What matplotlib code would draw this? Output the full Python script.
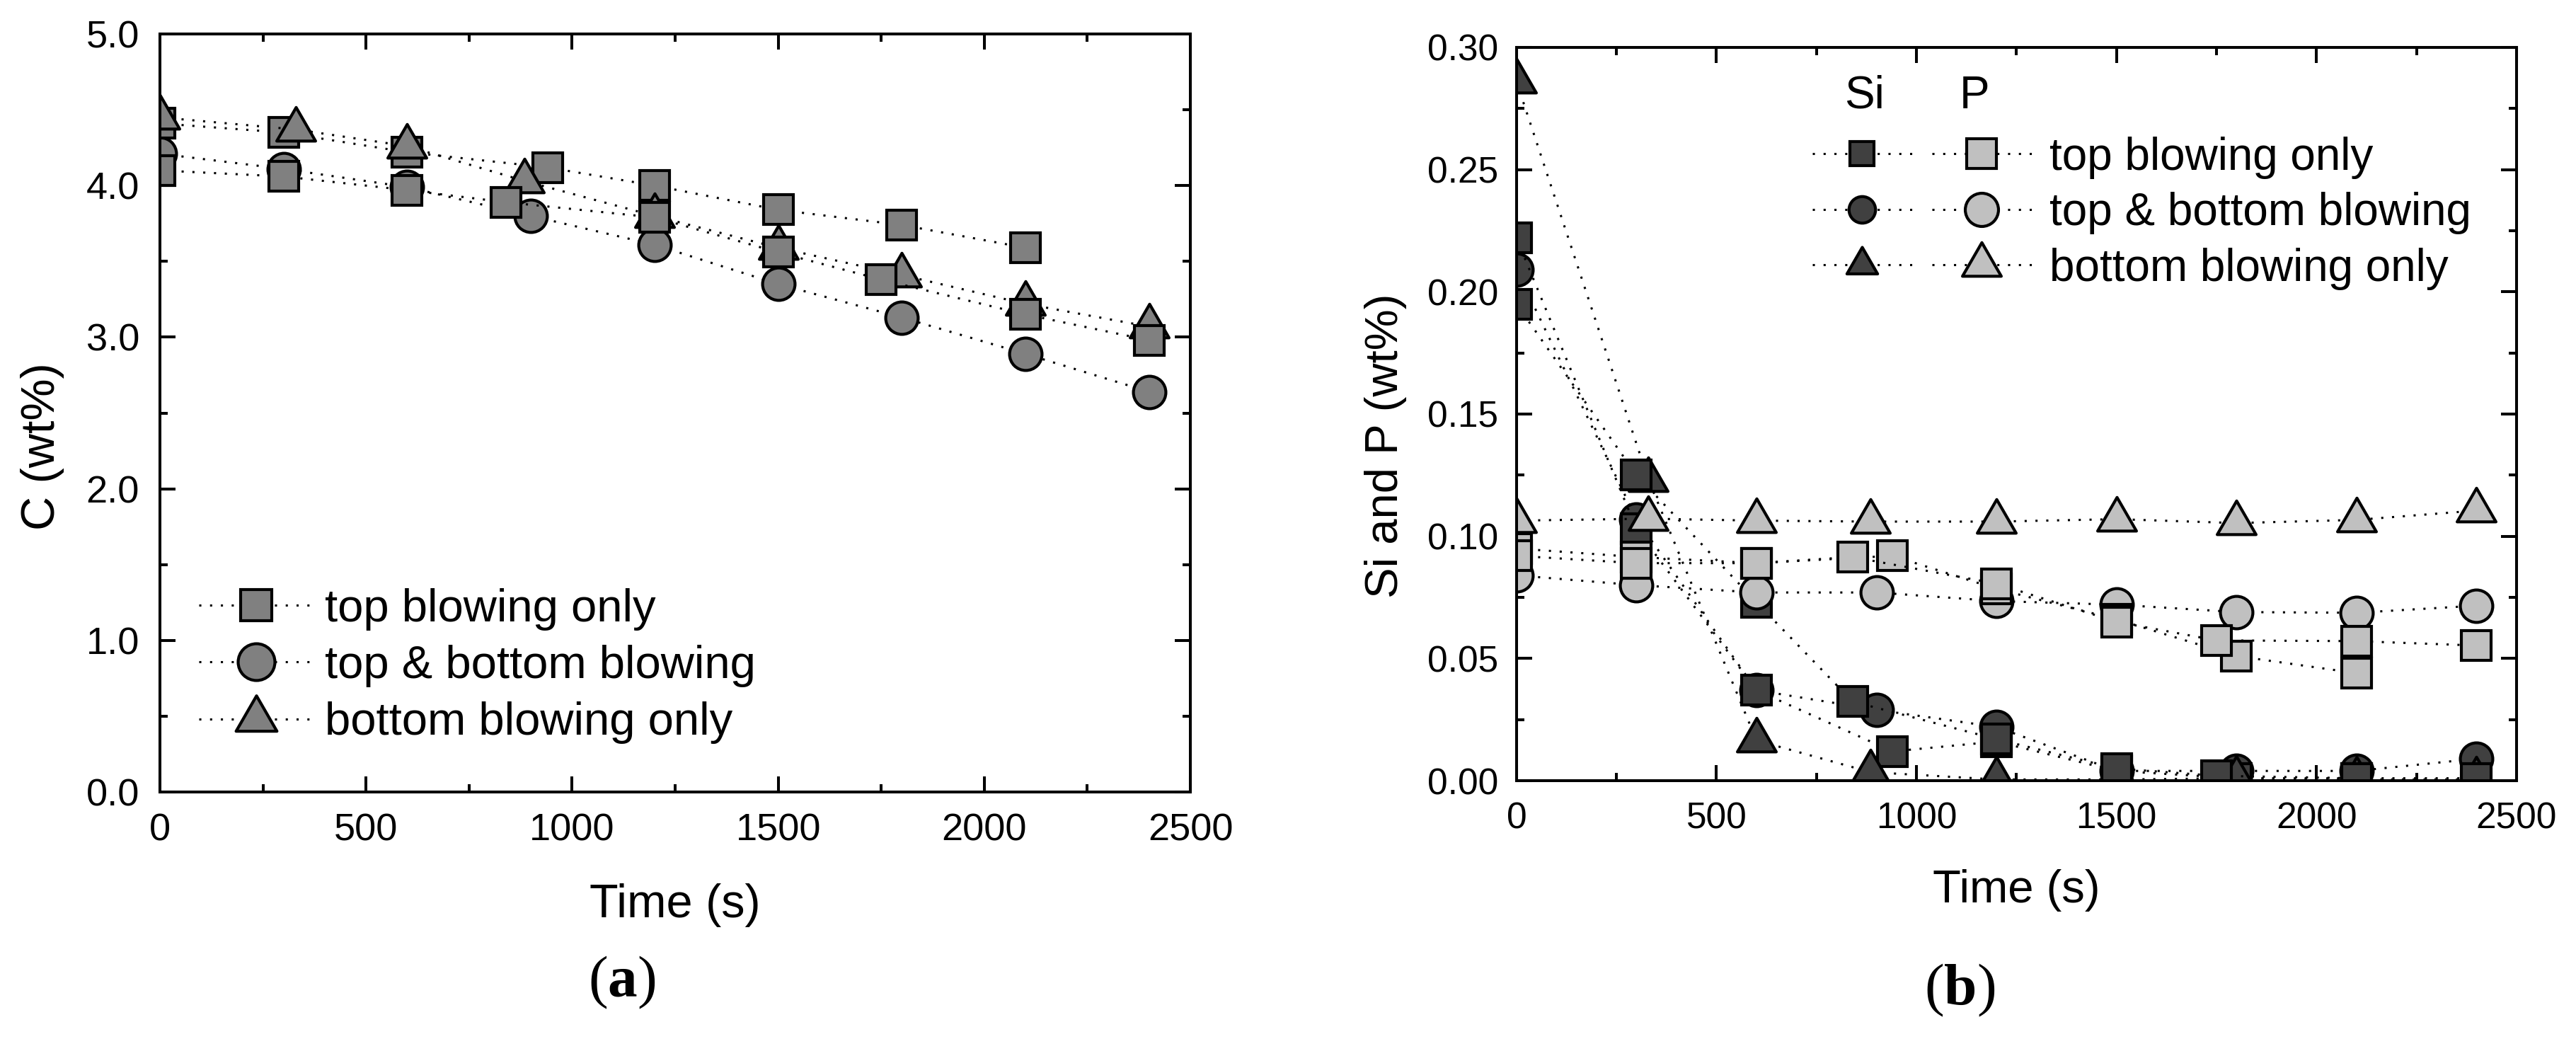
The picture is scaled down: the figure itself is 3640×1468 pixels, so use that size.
import matplotlib
matplotlib.use('Agg')
import matplotlib.pyplot as plt
from matplotlib.lines import Line2D
from matplotlib.markers import MarkerStyle
from matplotlib.path import Path
from matplotlib.legend_handler import HandlerTuple
from matplotlib.ticker import MultipleLocator, FormatStrFormatter

plt.rcParams['font.family'] = 'Liberation Sans'
plt.rcParams['mathtext.fontset'] = 'custom'
plt.rcParams['mathtext.rm'] = 'Liberation Serif'
plt.rcParams['mathtext.bf'] = 'Liberation Serif:bold'

# ---- (a) carbon content, wt% ----
t_top1 = [0, 300, 600, 940, 1200, 1500, 1800, 2100]
c_top1 = [4.41, 4.35, 4.22, 4.12, 4.00, 3.84, 3.74, 3.59]
t_top2 = [0, 300, 600, 840, 1200, 1500, 1750, 2100, 2400]
c_top2 = [4.10, 4.06, 3.97, 3.89, 3.79, 3.56, 3.38, 3.15, 2.98]
t_mix = [0, 300, 600, 900, 1200, 1500, 1800, 2100, 2400]
c_mix = [4.21, 4.11, 3.99, 3.80, 3.61, 3.35, 3.13, 2.89, 2.64]
t_bot = [0, 330, 600, 885, 1200, 1500, 1800, 2100, 2400]
c_bot = [4.45, 4.37, 4.26, 4.03, 3.80, 3.59, 3.41, 3.22, 3.07]

# ---- (b) Si and P content, wt% ----
si_top1 = [0.222, 0.103, 0.037, 0.012, 0.016, 0.004, 0.001, 0.001]
si_top2 = [0.195, 0.125, 0.073, 0.0324, 0.017, 0.005, 0.002, 0.001, 0.001]
si_mix = [0.209, 0.107, 0.037, 0.029, 0.022, 0.004, 0.004, 0.004, 0.009]
si_bot = [0.286, 0.123, 0.0165, 0.0035, 0.0005, 0.0005, 0.001, 0.0005, 0.0005]
p_top1 = [0.095, 0.0915, 0.089, 0.092, 0.0785, 0.066, 0.051, 0.044]
p_top2 = [0.092, 0.089, 0.089, 0.0915, 0.0806, 0.065, 0.0574, 0.0571, 0.0553]
p_mix = [0.084, 0.080, 0.077, 0.077, 0.0735, 0.072, 0.069, 0.0687, 0.0716]
p_bot = [0.1064, 0.1072, 0.1064, 0.106, 0.106, 0.107, 0.1054, 0.1067, 0.1105]

labels = ['top blowing only', 'top & bottom blowing', 'bottom blowing only']

gray = '#808080'
dark = '#404040'
light = '#c0c0c0'
dots = (0, (1, 4))

# triangle with its centroid on the data point
tri = MarkerStyle(Path([(0, 1), (-0.866, -0.5), (0.866, -0.5), (0, 1)], closed=True),
                  joinstyle='miter')


def series(ax, t, y, mk, ms, fc):
    ax.plot(t, y, ls=dots, color='k', lw=1.1, marker=mk, ms=ms,
            mfc=fc, mec='k', mew=1.5)


def handle(mk, ms, fc):
    return Line2D([], [], ls=dots, color='k', lw=1.1, marker=mk, ms=ms,
                  mfc=fc, mec='k', mew=1.5)


def style_axes(ax, ymajor, yminor, fmt, tick_size):
    ax.set_xlim(0, 2500)
    ax.xaxis.set_major_locator(MultipleLocator(500))
    ax.xaxis.set_minor_locator(MultipleLocator(250))
    ax.yaxis.set_major_locator(MultipleLocator(ymajor))
    ax.yaxis.set_minor_locator(MultipleLocator(yminor))
    ax.yaxis.set_major_formatter(FormatStrFormatter(fmt))
    ax.tick_params(which='both', direction='in', top=True, right=True, width=1.45)
    ax.tick_params(which='major', length=7.9, pad=10.5, labelsize=tick_size)
    ax.tick_params(which='minor', length=4)
    for s in ax.spines.values():
        s.set_linewidth(1.45)


fig = plt.figure(figsize=(18.2, 7.34), dpi=200)

# ---------------- (a) ----------------
ax1 = fig.add_axes([0.0621, 0.2377, 0.4, 0.7296])
series(ax1, t_mix, c_mix, 'o', 16.5, gray)
series(ax1, t_top1, c_top1, 's', 15, gray)
series(ax1, t_bot, c_bot, tri, 22.8, gray)
series(ax1, t_top2, c_top2, 's', 15, gray)
ax1.set_ylim(0, 5)
style_axes(ax1, 1.0, 0.5, '%.1f', 19.5)
ax1.set_xlabel('Time (s)', fontsize=24, va='center')
ax1.xaxis.set_label_coords(0.5, -0.149)
ax1.set_ylabel('C (wt%)', fontsize=24, va='center')
ax1.yaxis.set_label_coords(-0.114, 0.456)

h1 = [handle('s', 15.8, gray), handle('o', 18.7, gray), handle(tri, 24, gray)]
ax1.legend(h1, labels, loc='center left', bbox_to_anchor=(0.0378, 0.166),
           frameon=False, borderpad=0, borderaxespad=0, fontsize=23.5,
           handlelength=2.47, handletextpad=0.26, labelspacing=0.31)

# ---------------- (b) ----------------
ax2 = fig.add_axes([0.5887, 0.2486, 0.3882, 0.7058])
series(ax2, t_mix, si_mix, 'o', 16.5, dark)
series(ax2, t_top1, si_top1, 's', 15, dark)
series(ax2, t_bot, si_bot, tri, 22.8, dark)
series(ax2, t_top2, si_top2, 's', 15, dark)
series(ax2, t_mix, p_mix, 'o', 16.5, light)
series(ax2, t_top1, p_top1, 's', 15, light)
series(ax2, t_bot, p_bot, tri, 22.8, light)
series(ax2, t_top2, p_top2, 's', 15, light)
ax2.set_ylim(0, 0.30)
style_axes(ax2, 0.05, 0.025, '%.2f', 18.5)
ax2.tick_params(axis='y', which='major', pad=9.4)
ax2.set_xlabel('Time (s)', fontsize=23.5, va='center')
ax2.xaxis.set_label_coords(0.5, -0.150)
ax2.set_ylabel('Si and P (wt%)', fontsize=23.5, va='center')
ax2.yaxis.set_label_coords(-0.131, 0.457)

h2 = [(handle('s', 12.2, dark), handle('s', 15, light)),
      (handle('o', 13.5, dark), handle('o', 16.9, light)),
      (handle(tri, 18, dark), handle(tri, 22.8, light))]
ax2.legend(h2, labels, loc='center left', bbox_to_anchor=(0.2958, 0.774),
           frameon=False, borderpad=0, borderaxespad=0, fontsize=23,
           handlelength=4.85, handletextpad=0.40, labelspacing=0.29,
           handler_map={tuple: HandlerTuple(ndivide=None, pad=0.44)})
ax2.text(0.348, 0.9334, 'Si', transform=ax2.transAxes, fontsize=23,
         ha='center', va='center')
ax2.text(0.458, 0.9334, 'P', transform=ax2.transAxes, fontsize=23,
         ha='center', va='center')

# panel captions
fig.text(0.2413, 0.0542, r'($\mathbf{a}$)', family='Liberation Serif',
         fontsize=30, ha='center', va='center')
fig.text(0.7607, 0.0466, r'($\mathbf{b}$)', family='Liberation Serif',
         fontsize=30, ha='center', va='center')

fig.savefig('out.png', dpi=200)
